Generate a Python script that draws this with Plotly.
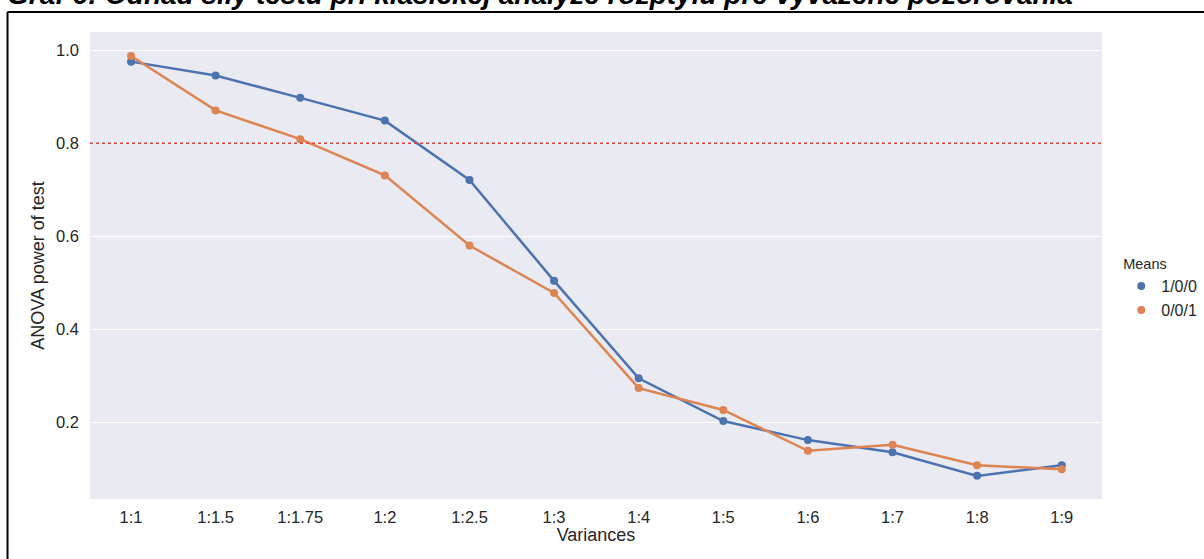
import plotly.graph_objects as go

variances = ["1:1", "1:1.5", "1:1.75", "1:2", "1:2.5", "1:3", "1:4", "1:5", "1:6", "1:7", "1:8", "1:9"]
power_100 = [0.976, 0.946, 0.898, 0.849, 0.721, 0.504, 0.294, 0.202, 0.161, 0.135, 0.084, 0.107]
power_001 = [0.988, 0.871, 0.809, 0.731, 0.580, 0.478, 0.273, 0.226, 0.138, 0.151, 0.107, 0.098]
series_names = ["1/0/0", "0/0/1"]
threshold = 0.8
title_text = "Graf 6: Odhad sily testu pri klasickej analýze rozptylu pre vyvážené pozorovania"

colors = ["#4C72B0", "#DD8452"]
font_family = "Liberation Sans, Arial, sans-serif"
text_color = "#262626"

fig = go.Figure()
for name, vals, col in zip(series_names, [power_100, power_001], colors):
    fig.add_trace(go.Scatter(x=variances, y=vals, mode="lines", line=dict(color=col, width=2.5),
                             showlegend=False, hoverinfo="skip"))
    fig.add_trace(go.Scatter(x=variances, y=vals, mode="markers", name=name,
                             marker=dict(color=col, size=8)))

fig.add_shape(type="line", xref="paper", yref="y", x0=0, x1=1, y0=threshold, y1=threshold,
              line=dict(color="#E0443C", width=1.5, dash="dot"), layer="above")

# frame around the figure (left and top borders)
fig.add_shape(type="line", xref="paper", yref="paper", x0=-0.0815, x1=-0.0815, y0=-0.2, y1=1.0428,
              line=dict(color="black", width=2))
fig.add_shape(type="line", xref="paper", yref="paper", x0=-0.0815, x1=1.2, y0=1.0428, y1=1.0428,
              line=dict(color="black", width=2))

fig.add_annotation(text="<b><i>" + title_text + "</i></b>", xref="paper", yref="paper",
                   x=-0.084, y=1.0805, xanchor="left", yanchor="middle", showarrow=False,
                   font=dict(family=font_family, size=28, color="black"))

fig.update_layout(
    width=1204, height=559,
    margin=dict(l=90, r=102, t=32, b=60, autoexpand=False),
    paper_bgcolor="white", plot_bgcolor="#EAEAF2",
    font=dict(family=font_family, size=16, color=text_color),
    legend=dict(title=dict(text="Means", font=dict(size=14.5)), x=1.019, y=0.45, xanchor="left", yanchor="middle",
                bgcolor="rgba(0,0,0,0)", font=dict(size=16), tracegroupgap=0),
    xaxis=dict(title=dict(text="Variances", font=dict(size=18), standoff=1), range=[-0.485, 11.476],
               showgrid=False, zeroline=False, showline=False, ticks="", ticklabelstandoff=6,
               tickfont=dict(size=16.5)),
    yaxis=dict(title=dict(text="ANOVA power of test", font=dict(size=18), standoff=6), range=[0.0342, 1.0398],
               tickvals=[0.2, 0.4, 0.6, 0.8, 1.0], ticktext=["0.2", "0.4", "0.6", "0.8", "1.0"],
               showgrid=True, gridcolor="white", gridwidth=1, zeroline=False, showline=False,
               ticks="", ticklabelstandoff=10, tickfont=dict(size=16.5)),
)

fig.write_html("out.html", config={"displayModeBar": False},
               post_script="document.body.style.margin='0';document.body.style.overflow='hidden';")
